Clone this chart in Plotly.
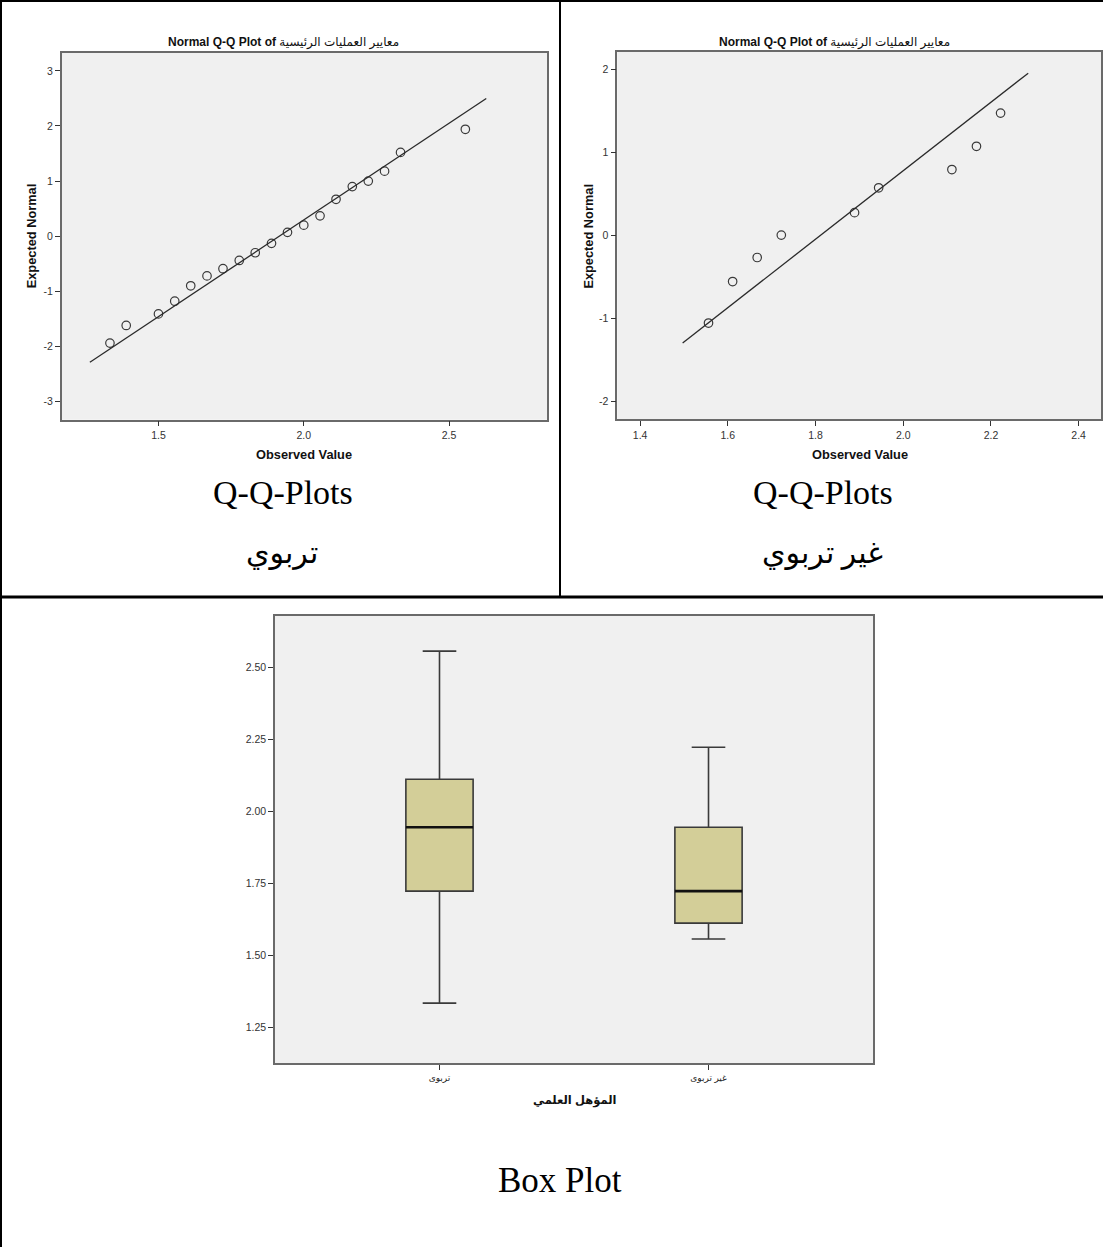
import plotly.graph_objects as go

# ---------------- data ----------------
qq_title_en = "Normal Q-Q Plot of"
qq_title_ar = "معايير العمليات الرئيسية"

# Q-Q plot: تربوي
tarbawi_observed = [1.333, 1.389, 1.500, 1.556, 1.611, 1.667, 1.722, 1.778, 1.833, 1.889,
                    1.944, 2.000, 2.056, 2.111, 2.167, 2.222, 2.278, 2.333, 2.556]
tarbawi_expected = [-1.94, -1.62, -1.41, -1.18, -0.90, -0.72, -0.59, -0.44, -0.30, -0.13,
                    0.07, 0.20, 0.37, 0.67, 0.90, 1.00, 1.18, 1.52, 1.94]
tarbawi_line_x = [1.264, 2.628]
tarbawi_mean = 1.916
tarbawi_sd = 0.285

# Q-Q plot: غير تربوي
ghair_observed = [1.556, 1.611, 1.667, 1.722, 1.889, 1.944, 2.111, 2.167, 2.222]
ghair_expected = [-1.06, -0.56, -0.27, 0.00, 0.27, 0.57, 0.79, 1.07, 1.47]
ghair_line_x = [1.497, 2.285]
ghair_mean = 1.812
ghair_sd = 0.2424

# Box plot
box_categories = ["تربوى", "غير تربوى"]
box_positions = [0, 1]
box_min = [1.333, 1.556]
box_q1 = [1.722, 1.611]
box_median = [1.944, 1.722]
box_q3 = [2.111, 1.944]
box_max = [2.556, 2.222]
box_width = 0.25

qq_left_xticks = [1.5, 2.0, 2.5]
qq_left_yticks = [-3, -2, -1, 0, 1, 2, 3]
qq_right_xticks = [1.4, 1.6, 1.8, 2.0, 2.2, 2.4]
qq_right_yticks = [-2, -1, 0, 1, 2]
box_yticks = [1.25, 1.50, 1.75, 2.00, 2.25, 2.50]

# ---------------- layout helpers ----------------
W, H = 1103, 1247


def px(x):
    return x / W


def py(y):
    return 1 - y / H


SANS = "Liberation Sans, Arial, DejaVu Sans, sans-serif"
SERIF = "Liberation Serif, Times New Roman, DejaVu Sans, serif"
LINE_C = "#6a6a6a"
TICK_FONT = dict(family=SANS, size=10.5, color="#333333")

fig = go.Figure()

marker_style = dict(symbol="circle-open", size=8.5, color="#3a3a3a", line=dict(width=1.2))

# Left Q-Q
fig.add_trace(go.Scatter(x=tarbawi_observed, y=tarbawi_expected, mode="markers",
                         marker=marker_style, xaxis="x", yaxis="y", showlegend=False))
fig.add_trace(go.Scatter(x=tarbawi_line_x,
                         y=[(v - tarbawi_mean) / tarbawi_sd for v in tarbawi_line_x],
                         mode="lines", line=dict(color="#2a2a2a", width=1.3),
                         xaxis="x", yaxis="y", showlegend=False))

# Right Q-Q
fig.add_trace(go.Scatter(x=ghair_observed, y=ghair_expected, mode="markers",
                         marker=marker_style, xaxis="x2", yaxis="y2", showlegend=False))
fig.add_trace(go.Scatter(x=ghair_line_x,
                         y=[(v - ghair_mean) / ghair_sd for v in ghair_line_x],
                         mode="lines", line=dict(color="#2a2a2a", width=1.3),
                         xaxis="x2", yaxis="y2", showlegend=False))

# Box plot
fig.add_trace(go.Box(x=box_positions, q1=box_q1, median=box_median, q3=box_q3,
                     lowerfence=box_min, upperfence=box_max, width=box_width,
                     whiskerwidth=0.5, fillcolor="#D3CE98",
                     line=dict(color="#3a3a3a", width=1.6),
                     boxpoints=False, hoverinfo="skip",
                     xaxis="x3", yaxis="y3", showlegend=False))
# thick median lines
for pos, med in zip(box_positions, box_median):
    fig.add_trace(go.Scatter(x=[pos - box_width / 2, pos + box_width / 2], y=[med, med],
                             mode="lines", line=dict(color="#111111", width=2.6),
                             xaxis="x3", yaxis="y3", showlegend=False, hoverinfo="skip"))

axis_common = dict(showgrid=False, zeroline=False, showline=True, mirror=True,
                   linecolor=LINE_C, linewidth=1.5, ticks="outside", ticklen=5,
                   tickwidth=1, tickcolor="#333333", tickfont=TICK_FONT)


def int_labels(vals):
    return [f"{v:d}" for v in vals]


fig.update_layout(
    width=W, height=H, margin=dict(l=0, r=0, t=0, b=0),
    paper_bgcolor="white", plot_bgcolor="#F0F0F0",
    xaxis=dict(domain=[px(61.7), px(547)], range=[1.167, 2.837],
               tickvals=qq_left_xticks, tickformat=".1f", anchor="y", **axis_common),
    yaxis=dict(domain=[py(419.7), py(52.7)], range=[-3.33, 3.33],
               tickvals=qq_left_yticks, ticktext=int_labels(qq_left_yticks),
               anchor="x", **axis_common),
    xaxis2=dict(domain=[px(617.3), px(1101)], range=[1.348, 2.451],
                tickvals=qq_right_xticks, tickformat=".1f", anchor="y2", **axis_common),
    yaxis2=dict(domain=[py(419.3), py(51.7)], range=[-2.22, 2.21],
                tickvals=qq_right_yticks, ticktext=int_labels(qq_right_yticks),
                anchor="x2", **axis_common),
    xaxis3=dict(domain=[px(275), px(873.3)], range=[-0.6115, 1.6126],
                tickvals=box_positions, ticktext=box_categories, anchor="y3",
                **{**axis_common, "tickfont": dict(family=SANS, size=9, color="#222222")}),
    yaxis3=dict(domain=[py(1063.3), py(615.7)], range=[1.124, 2.679],
                tickvals=box_yticks, tickformat=".2f", anchor="x3", **axis_common),
)

ann = []


def text(x, y, s, size, family=SANS, angle=0, color="#000000"):
    ann.append(dict(x=px(x), y=py(y), xref="paper", yref="paper", showarrow=False,
                    text=s, textangle=angle,
                    xanchor="center", yanchor="middle",
                    font=dict(family=family, size=size, color=color)))


qq_title = f"<b>{qq_title_en}</b> {qq_title_ar}"

# Q-Q titles and axis titles
text(283, 43, qq_title, 12, color="#111111")
text(834, 43, qq_title, 12, color="#111111")
text(31.3, 236, "<b>Expected Normal</b>", 12.8, angle=-90, color="#111111")
text(587.6, 236, "<b>Expected Normal</b>", 12.8, angle=-90, color="#111111")
text(304, 454, "<b>Observed Value</b>", 12.8, color="#111111")
text(859.5, 454, "<b>Observed Value</b>", 12.8, color="#111111")

# captions
text(283, 492, "Q-Q-Plots", 34, family=SERIF)
text(823, 492, "Q-Q-Plots", 34, family=SERIF)
text(282, 553, "تربوي", 30, family=SERIF)
text(822, 553, "غير تربوي", 30, family=SERIF)

# box plot axis title and caption
text(574, 1101, "<b>المؤهل العلمي</b>", 11.5, color="#111111")
text(560, 1180, "Box Plot", 35, family=SERIF)

fig.update_layout(annotations=ann)

# page borders / table lines
shapes = [
    dict(type="line", xref="paper", yref="paper", x0=px(1), x1=px(1), y0=py(0), y1=py(H),
         line=dict(color="black", width=2)),
    dict(type="line", xref="paper", yref="paper", x0=px(0), x1=px(W), y0=py(1), y1=py(1),
         line=dict(color="black", width=2)),
    dict(type="line", xref="paper", yref="paper", x0=px(560), x1=px(560), y0=py(0), y1=py(597),
         line=dict(color="black", width=2)),
    dict(type="line", xref="paper", yref="paper", x0=px(0), x1=px(W), y0=py(597), y1=py(597),
         line=dict(color="black", width=3)),
]
fig.update_layout(shapes=shapes)

fig.write_html("out.html", config={"displayModeBar": False},
               post_script="document.body.style.margin='0';document.body.style.overflow='hidden';")
